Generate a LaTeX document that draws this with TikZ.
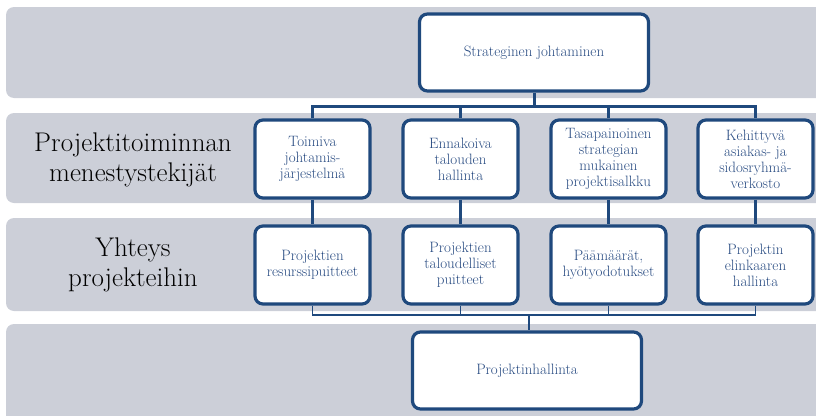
\documentclass[tikz,border=0pt]{standalone}
\usepackage{fontspec}
\usetikzlibrary{calc}
\definecolor{bandgray}{RGB}{204,207,216}
\definecolor{boxblue}{RGB}{31,73,125}
\definecolor{txtblue}{RGB}{40,75,130}
\begin{document}
\begin{tikzpicture}[x=1pt,y=-1pt,
  band/.style={fill=bandgray,draw=none,rounded corners=8pt},
  orgbox/.style={draw=boxblue,line width=3.2pt,fill=white,rounded corners=8pt,
    minimum width=115pt,minimum height=78pt,align=center,inner sep=2pt,
    text=txtblue,font=\rmfamily\fontsize{15}{16}\selectfont},
  bigbox/.style={orgbox,minimum width=229pt,minimum height=77pt},
  rowlabel/.style={align=center,font=\rmfamily\fontsize{27}{30}\selectfont,text=black},
  link/.style={draw=boxblue,line width=3pt},
  thinlink/.style={draw=boxblue,line width=1.8pt}]
\useasboundingbox (0,0) rectangle (816,415);

% background bands
\fill[band] (6,7) rectangle (840,98);
\fill[band] (6,113) rectangle (840,203);
\fill[band] (6,218) rectangle (840,311);
\fill[band] (6,324) rectangle (840,440);

% row labels
\node[rowlabel] (lab1) at (133,160) {Projektitoiminnan\\menestystekijät};
\node[rowlabel] (lab2) at (133,265) {Yhteys\\projekteihin};

% top and bottom boxes
\node[bigbox] (top) at (534,52.5) {Strateginen johtaminen};
\node[bigbox] (bot) at (527,370.5) {Projektinhallinta};

% success factors
\node[orgbox] (a1) at (312.5,159) {Toimiva\\johtamis-\\järjestelmä};
\node[orgbox] (a2) at (460.5,159) {Ennakoiva\\talouden\\hallinta};
\node[orgbox] (a3) at (608.5,159) {Tasapainoinen\\strategian\\mukainen\\projektisalkku};
\node[orgbox] (a4) at (755.5,159) {Kehittyvä\\asiakas- ja\\sidosryhmä-\\verkosto};

% links to projects
\node[orgbox] (c1) at (312.5,265) {Projektien\\resurssipuitteet};
\node[orgbox] (c2) at (460.5,265) {Projektien\\taloudelliset\\puitteet};
\node[orgbox] (c3) at (608.5,265) {Päämäärät,\\hyötyodotukset};
\node[orgbox] (c4) at (755.5,265) {Projektin\\elinkaaren\\hallinta};

% connectors
\coordinate (hub) at (534,106);
\coordinate (hubb) at (529,315);
\draw[link] (top.south) -- (hub);
\draw[link] (a1.north) |- (hub) -| (a4.north);
\draw[link] (a2.north) -- (a2.north |- hub);
\draw[link] (a3.north) -- (a3.north |- hub);
\foreach \i in {1,2,3,4} {\draw[link] (a\i.south) -- (c\i.north);}
\draw[thinlink] (c1.south) |- (hubb) -| (c4.south);
\draw[thinlink] (c2.south) -- (c2.south |- hubb);
\draw[thinlink] (c3.south) -- (c3.south |- hubb);
\draw[thinlink] (hubb) -- (hubb |- bot.north);
\end{tikzpicture}
\end{document}
